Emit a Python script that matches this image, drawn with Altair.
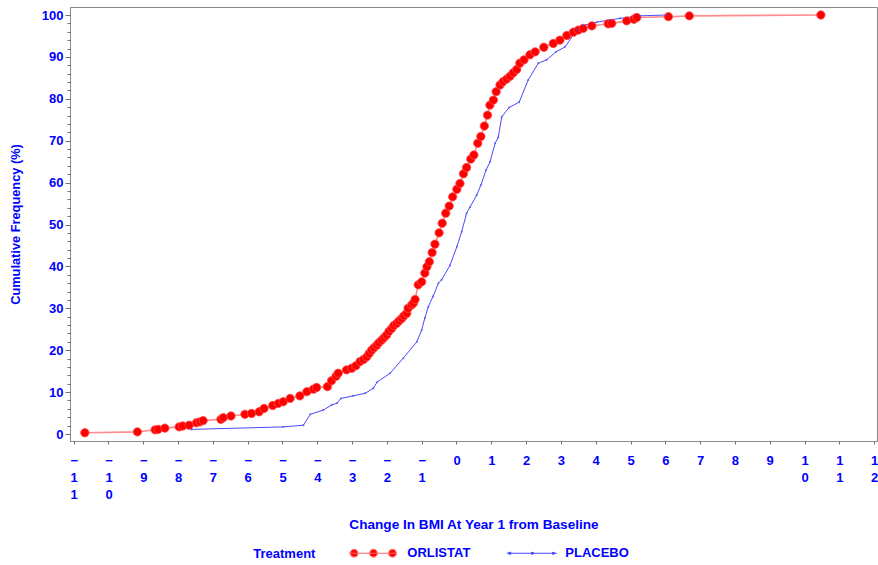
import altair as alt
import pandas as pd

# ORLISTAT cumulative distribution (change in BMI, cumulative %)
orl_x = [-10.68, -9.17, -8.66, -8.57, -8.38, -7.97, -7.87, -7.68, -7.47, -7.37, -7.28, -6.77, -6.70,
         -6.48, -6.08, -5.89, -5.67, -5.53, -5.28, -5.12, -4.98, -4.78, -4.50, -4.30, -4.11, -4.02,
         -3.71, -3.59, -3.46, -3.40, -3.16, -3.01, -2.89, -2.77, -2.67, -2.58, -2.51, -2.44, -2.37,
         -2.29, -2.23, -2.15, -2.08, -2.01, -1.94, -1.86, -1.80, -1.72, -1.65, -1.57, -1.51, -1.43,
         -1.39, -1.29, -1.24, -1.19, -1.10, -1.00, -0.91, -0.85, -0.78, -0.70, -0.62, -0.50, -0.41,
         -0.31, -0.21, -0.11, 0.01, 0.10, 0.20, 0.29, 0.41, 0.50, 0.61, 0.70, 0.80, 0.89, 0.96, 1.06,
         1.14, 1.25, 1.34, 1.44, 1.54, 1.63, 1.73, 1.82, 1.94, 2.11, 2.26, 2.51, 2.78, 2.97, 3.17,
         3.36, 3.50, 3.64, 3.89, 4.36, 4.46, 4.89, 5.10, 5.18, 6.09, 6.69, 10.47]
orl_y = [0.3, 0.5, 1.0, 1.1, 1.4, 1.7, 1.9, 2.1, 2.7, 2.9, 3.2, 3.5, 3.9,
         4.3, 4.7, 4.9, 5.3, 6.1, 6.8, 7.3, 7.7, 8.5, 9.1, 10.1, 10.7, 11.1,
         11.3, 12.7, 13.8, 14.5, 15.3, 15.7, 16.3, 17.3, 17.8, 18.4, 19.2, 20.0, 20.6,
         21.2, 21.8, 22.4, 23.0, 23.6, 24.5, 25.2, 25.9, 26.4, 27.0, 27.6, 28.2, 28.8,
         30.0, 30.8, 31.2, 32.1, 35.6, 36.3, 38.4, 39.9, 41.1, 43.3, 45.3, 48.0, 50.3,
         52.7, 54.4, 56.6, 58.4, 59.8, 62.1, 63.6, 65.6, 66.6, 69.4, 71.0, 73.5, 76.1, 78.5, 79.7,
         81.7, 83.3, 84.1, 84.7, 85.4, 86.2, 87.0, 88.5, 89.3, 90.5, 91.2, 92.3, 93.2, 94.0, 95.1,
         95.9, 96.4, 96.8, 97.4, 97.9, 98.0, 98.6, 99.0, 99.4, 99.6, 99.8, 100.0]

# PLACEBO cumulative distribution
pla_x = [-7.61, -4.98, -4.40, -4.20, -3.83, -3.59, -3.43, -3.32, -2.97, -2.63, -2.39, -2.28,
         -1.91, -1.53, -1.14, -1.00, -0.91, -0.81, -0.67, -0.52, -0.43, -0.19, 0.01, 0.15, 0.29,
         0.39, 0.58, 0.70, 0.85, 0.96, 1.11, 1.20, 1.30, 1.51, 1.80, 2.06, 2.35, 2.59, 2.86, 3.12,
         3.45, 3.64, 4.03, 4.41, 4.70, 5.27, 6.04]
pla_y = [1.1, 1.7, 2.1, 4.7, 5.7, 6.9, 7.4, 8.5, 9.1, 9.7, 10.9, 12.4,
         14.5, 18.1, 22.0, 24.8, 27.7, 30.4, 32.9, 36.0, 36.8, 40.2, 44.7, 48.3, 52.7,
         54.2, 57.0, 59.4, 63.0, 64.9, 69.4, 70.8, 75.7, 77.9, 79.2, 84.5, 88.5, 89.3, 91.2, 92.4,
         96.4, 97.5, 98.3, 98.8, 99.2, 99.8, 100.0]

treatments = ["ORLISTAT", "PLACEBO"]
x_ticks = list(range(-11, 13))
y_major = list(range(0, 101, 10))
y_minor = list(range(0, 101, 2))

orl = pd.DataFrame({"bmi": orl_x, "freq": orl_y, "Treatment": "ORLISTAT"})
pla = pd.DataFrame({"bmi": pla_x, "freq": pla_y, "Treatment": "PLACEBO"})
leg = pd.DataFrame({"Treatment": treatments, "bmi": [0, 0], "freq": [0, 0]})

BLUE = "#0000ff"
RED = "#ff0000"
PINK = "#ff8c8c"
LBLUE = "#4a4aff"
FONT = "Liberation Sans"
FS = 13


def circ(cx, r):
    return f"M{cx - r},0A{r},{r} 0 1,0 {cx + r},0A{r},{r} 0 1,0 {cx - r},0Z"


path_orl = "M0,0L9.6,0" + circ(1.06, 0.76) + circ(4.94, 0.76) + circ(8.74, 0.76)
path_pla = "M0,0L10,0" + circ(0.6, 0.2) + circ(5.1, 0.2) + circ(9.3, 0.2)

xscale = alt.Scale(domain=[-11.106, 12.083], nice=False, zero=False)
yscale = alt.Scale(domain=[-1.67, 101.91], nice=False, zero=False)

x_axis = alt.Axis(values=x_ticks, format="d", labelExpr="split(datum.label, '')",
                  labelLineHeight=17, labelBaseline="top", labelPadding=10, tickSize=3,
                  labelOverlap=False, labelFlush=False, grid=False,
                  title="Change In BMI At Year 1 from Baseline", titleY=87,
                  titleFontSize=13.6, titleBaseline="alphabetic")
x_enc = alt.X("bmi:Q", scale=xscale, axis=x_axis)

y_major_axis = alt.Axis(values=y_major, format="d", tickSize=5, labelPadding=2, grid=False,
                        orient="left", title="Cumulative Frequency (%)", titleX=-51, titleY=217,
                        titleFontSize=12.8, titleBaseline="alphabetic")
y_minor_axis = alt.Axis(values=y_minor, labels=False, tickSize=3, domain=False, grid=False,
                        orient="left", title=None)

orl_line = alt.Chart(orl).mark_line(color=PINK, strokeWidth=1.6).encode(
    x=x_enc, y=alt.Y("freq:Q", scale=yscale, axis=y_major_axis))
orl_pts = alt.Chart(orl).mark_circle(color=RED, size=70, opacity=1, stroke="#ff4d4d",
                                     strokeWidth=0.8).encode(
    x=x_enc, y=alt.Y("freq:Q", scale=yscale, axis=None))
pla_line = alt.Chart(pla).mark_line(color=LBLUE, strokeWidth=1).encode(
    x=x_enc, y=alt.Y("freq:Q", scale=yscale, axis=None))
pla_pts = alt.Chart(pla).mark_circle(color=LBLUE, size=4, opacity=0.8).encode(
    x=x_enc, y=alt.Y("freq:Q", scale=yscale, axis=y_minor_axis))

legend = alt.Legend(orient="none", legendX=183.3, legendY=539.5, direction="horizontal",
                    title="Treatment", titleOrient="left", titlePadding=26,
                    titleFont=FONT, titleFontSize=FS, titleFontWeight="bold", titleColor=BLUE,
                    labelFont=FONT, labelFontSize=FS, labelFontWeight="bold", labelColor=BLUE,
                    labelOffset=52, symbolSize=100, symbolStrokeWidth=1.2, columnPadding=29,
                    padding=0, symbolOffset=0, symbolOpacity=1)

leg_layer = alt.Chart(leg).mark_point(filled=True, size=100, opacity=1).encode(
    color=alt.Color("Treatment:N", scale=alt.Scale(domain=treatments, range=[RED, LBLUE]), legend=legend),
    stroke=alt.Stroke("Treatment:N", scale=alt.Scale(domain=treatments, range=["#ff6a6a", LBLUE]), legend=legend),
    shape=alt.Shape("Treatment:N", scale=alt.Scale(domain=treatments, range=[path_orl, path_pla]), legend=legend),
).transform_filter("datum.freq > 1000")

chart = alt.layer(pla_line, orl_line, orl_pts, pla_pts, leg_layer).resolve_scale(
    y="shared").resolve_axis(y="independent").properties(
    width=807, height=434,
    autosize=alt.AutoSizeParams(type="none"),
    padding={"left": 70, "top": 7, "right": 1, "bottom": 124},
    background="white",
).configure_view(stroke="#8a8a8a", strokeWidth=1).configure_axis(
    domainColor="#8a8a8a", tickColor="#707070", labelFont=FONT, labelFontSize=FS,
    labelFontWeight="bold", labelColor=BLUE, titleFont=FONT, titleFontSize=FS,
    titleFontWeight="bold", titleColor=BLUE,
)

chart.save("out.html", embed_options={"renderer": "svg", "actions": False})
